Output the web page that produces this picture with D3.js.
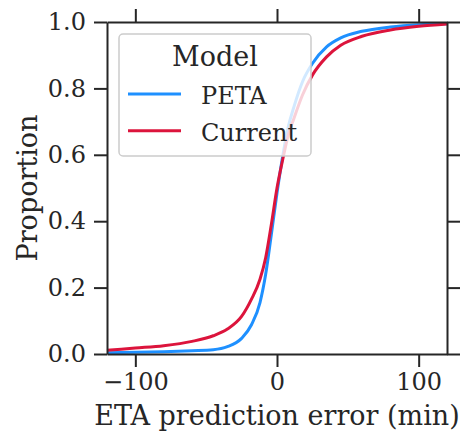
<!DOCTYPE html>
<html>
<head>
<meta charset="utf-8">
<script src="https://cdn.jsdelivr.net/npm/d3@7"></script>
<style>
  body { margin: 0; background: #fff; }
  svg { display: block; font-family: "DejaVu Serif", serif; }
</style>
</head>
<body>
<svg id="chart" width="469" height="432"></svg>
<script>
// ETA prediction error (min), x positions of the sampled CDF points
const errors = [-120, -100, -80, -60, -45, -35, -25, -18, -12, -8, -4, 0, 4, 8, 12, 18, 25, 35, 45, 60, 80, 100, 120];

// cumulative proportion per model
const petaValues = [0.004, 0.005, 0.007, 0.010, 0.013, 0.022, 0.047, 0.088, 0.155, 0.24, 0.36, 0.485,
  0.595, 0.685, 0.745, 0.82, 0.875, 0.925, 0.952, 0.972, 0.985, 0.992, 0.995];
const currentValues = [0.011, 0.018, 0.025, 0.038, 0.055, 0.075, 0.113, 0.165, 0.225, 0.29, 0.39, 0.50,
  0.585, 0.66, 0.71, 0.78, 0.84, 0.895, 0.93, 0.957, 0.976, 0.987, 0.994];

const modelNames = ['PETA', 'Current'];
const modelColors = ['#1e90ff', '#dc143c'];

const xTicks = [-100, 0, 100];
const yTicks = [0, 0.2, 0.4, 0.6, 0.8, 1.0];

const margin = { top: 22, right: 22, bottom: 78, left: 107 };
const width = 469 - margin.left - margin.right;
const height = 432 - margin.top - margin.bottom;

const svg = d3.select('#chart');
const g = svg.append('g')
  .attr('transform', `translate(${margin.left},${margin.top})`);

const x = d3.scaleLinear().domain([-120, 120]).range([0, width]);
const y = d3.scaleLinear().domain([0, 1]).range([height, 0]);

const series = [petaValues, currentValues].map((vals, i) => ({
  name: modelNames[i],
  color: modelColors[i],
  points: errors.map((e, j) => [e, vals[j]])
}));

const line = d3.line()
  .x(d => x(d[0]))
  .y(d => y(d[1]))
  .curve(d3.curveMonotoneX);

g.selectAll('.cdf')
  .data(series)
  .enter()
  .append('path')
  .attr('class', 'cdf')
  .attr('fill', 'none')
  .attr('stroke', d => d.color)
  .attr('stroke-width', 3)
  .attr('d', d => line(d.points));

// axes on all four sides, ticks outside
const fmtX = d => d3.format('d')(d).replace('-', '\u2212');
const fmtY = d3.format('.1f');

function styleAxis(sel) {
  sel.selectAll('.domain').attr('stroke', '#262626').attr('stroke-width', 2);
  sel.selectAll('.tick line').attr('stroke', '#262626').attr('stroke-width', 2);
  sel.selectAll('.tick text')
    .attr('fill', '#262626')
    .style('font-family', '"DejaVu Serif", serif')
    .style('font-size', '24px');
}

g.append('g')
  .attr('transform', `translate(0,${height})`)
  .call(d3.axisBottom(x).tickValues(xTicks).tickSize(13).tickPadding(6).tickSizeOuter(0).tickFormat(fmtX))
  .call(styleAxis);

g.append('g')
  .call(d3.axisTop(x).tickValues(xTicks).tickSize(13).tickSizeOuter(0).tickFormat(''))
  .call(styleAxis);

g.append('g')
  .call(d3.axisLeft(y).tickValues(yTicks).tickSize(13).tickPadding(8).tickSizeOuter(0).tickFormat(fmtY))
  .call(styleAxis);

g.append('g')
  .attr('transform', `translate(${width},0)`)
  .call(d3.axisRight(y).tickValues(yTicks).tickSize(13).tickSizeOuter(0).tickFormat(''))
  .call(styleAxis);

// axis labels
svg.append('text')
  .attr('x', margin.left + width / 2)
  .attr('y', 425)
  .attr('text-anchor', 'middle')
  .attr('fill', '#262626')
  .style('font-size', '27px')
  .text('ETA prediction error (min)');

svg.append('text')
  .attr('transform', `translate(37,${margin.top + height / 2}) rotate(-90)`)
  .attr('text-anchor', 'middle')
  .attr('fill', '#262626')
  .style('font-size', '27px')
  .text('Proportion');

// legend
const legend = g.append('g').attr('transform', 'translate(12,12)');

legend.append('rect')
  .attr('width', 192)
  .attr('height', 122)
  .attr('rx', 4)
  .attr('fill', '#fff')
  .attr('fill-opacity', 0.8)
  .attr('stroke', '#cccccc')
  .attr('stroke-width', 1.5);

legend.append('text')
  .attr('x', 96)
  .attr('y', 32)
  .attr('text-anchor', 'middle')
  .attr('fill', '#262626')
  .style('font-size', '27px')
  .text('Model');

const items = legend.selectAll('.item')
  .data(series)
  .enter()
  .append('g')
  .attr('class', 'item')
  .attr('transform', (d, i) => `translate(0,${60 + i * 36.7})`);

items.append('line')
  .attr('x1', 9)
  .attr('x2', 62)
  .attr('stroke', d => d.color)
  .attr('stroke-width', 3);

items.append('text')
  .attr('x', 82)
  .attr('y', 10)
  .attr('fill', '#262626')
  .style('font-size', '24px')
  .text(d => d.name);
</script>
</body>
</html>
